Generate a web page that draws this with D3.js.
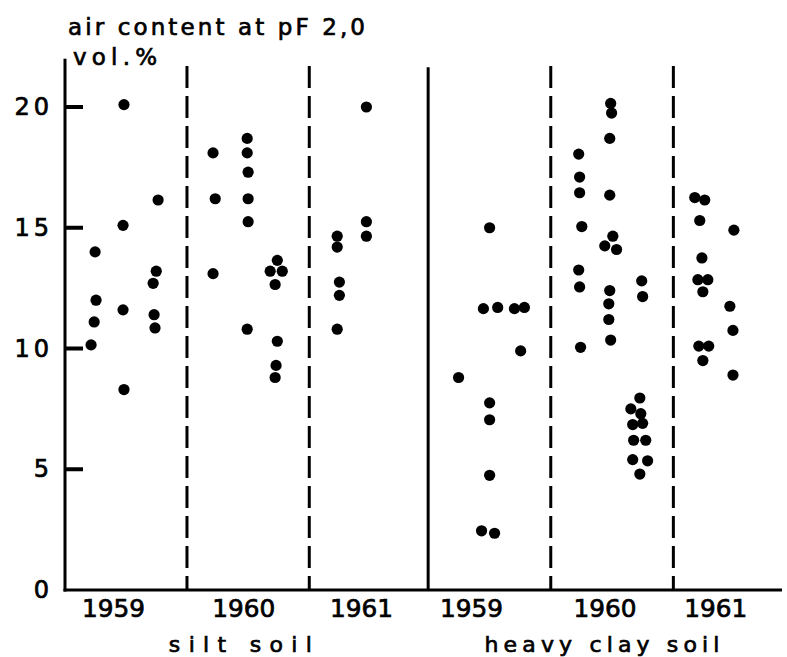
<!DOCTYPE html>
<html>
<head>
<meta charset="utf-8">
<script src="https://cdn.jsdelivr.net/npm/d3@7"></script>
<style>
  html, body { margin: 0; padding: 0; background: #fff; }
  svg { display: block; }
  text { font-family: "DejaVu Sans", "Liberation Sans", sans-serif; fill: #000; stroke: #000; stroke-width: 0.7px; }
</style>
</head>
<body>
<svg id="chart" width="787" height="657"></svg>
<script>
// ---- data: [column position, air content vol.%] ----
const siltSoil1959 = [[1.9,20.1],[3.0,16.15],[1.87,15.1],[0.97,14.0],[2.94,13.2],[2.84,12.7],[1.0,12.0],[1.87,11.6],[0.94,11.1],[2.87,11.4],[2.9,10.85],[0.84,10.15],[1.9,8.3]];
const siltSoil1960 = [[4.77,18.1],[5.87,18.7],[5.87,18.1],[5.9,17.3],[4.84,16.2],[5.9,16.2],[5.9,15.25],[4.77,13.1],[6.84,13.65],[6.61,13.2],[7.0,13.2],[6.77,12.65],[5.87,10.8],[6.84,10.3],[6.8,9.3],[6.77,8.8]];
const siltSoil1961 = [[9.71,20.0],[9.71,15.25],[9.71,14.65],[8.77,14.65],[8.77,14.2],[8.84,12.75],[8.84,12.2],[8.77,10.8]];
const claySoil1959 = [[12.68,8.8],[13.68,15.0],[13.48,11.65],[13.94,11.7],[14.48,11.65],[14.8,11.7],[14.68,9.9],[13.68,7.75],[13.68,7.05],[13.68,4.75],[13.42,2.45],[13.84,2.35]];
const claySoil1960 = [[16.55,18.05],[16.58,17.1],[16.58,16.45],[16.65,15.05],[16.55,13.25],[16.58,12.55],[16.61,10.05],
  [17.58,20.15],[17.61,19.75],[17.55,18.7],[17.55,16.35],[17.65,14.65],[17.39,14.25],[17.77,14.1],[17.55,12.4],[17.52,11.85],[17.52,11.2],[17.58,10.35],
  [18.58,12.8],[18.61,12.15],[18.52,7.95],[18.23,7.5],[18.55,7.3],[18.29,6.85],[18.61,6.9],[18.32,6.2],[18.71,6.2],[18.29,5.4],[18.77,5.35],[18.52,4.8]];
const claySoil1961 = [[20.29,16.25],[20.61,16.15],[20.45,15.3],[20.52,13.75],[20.39,12.85],[20.71,12.85],[20.55,12.35],[20.42,10.1],[20.74,10.1],[20.55,9.5],
  [21.55,14.9],[21.42,11.75],[21.52,10.75],[21.52,8.9]];

const yearLabels = ["1959","1960","1961","1959","1960","1961"];
const yearCenters = [1.56, 5.76, 9.55, 13.1, 17.4, 20.97];
const dashedDividers = [3.93, 7.87, 15.65, 19.6];
const soilDivider = 11.7;
const soilLabels = ["silt  soil", "heavy clay soil"];
const soilCenters = [5.65, 17.3];
const yTicks = [0, 5, 10, 15, 20];
const titleLines = ["air content at pF 2,0", "vol.%"];

// ---- scales ----
const svg = d3.select("#chart");
const x = d3.scaleLinear().domain([0, 23.1]).range([65, 782]);
const y = d3.scaleLinear().domain([0, 20]).range([590, 107]);
const yTop = 22.0;

// dashed year dividers
svg.selectAll("line.div").data(dashedDividers).join("line")
  .attr("class", "div")
  .attr("x1", d => x(d)).attr("x2", d => x(d))
  .attr("y1", y(21.7)).attr("y2", y(0))
  .attr("stroke", "#000").attr("stroke-width", 3)
  .attr("stroke-dasharray", "22,8");

// solid soil divider
svg.append("line")
  .attr("x1", x(soilDivider)).attr("x2", x(soilDivider))
  .attr("y1", y(21.65)).attr("y2", y(0))
  .attr("stroke", "#000").attr("stroke-width", 3);

// y axis labels via d3 axis
const yAxis = d3.axisLeft(y).tickValues(yTicks).tickSize(0).tickPadding(12).tickFormat(d3.format("d"));
const gy = svg.append("g").attr("transform", `translate(${x(0)},0)`).call(yAxis);
gy.select(".domain").remove();
gy.selectAll(".tick line").remove();
gy.selectAll(".tick text").attr("font-size", 24).attr("letter-spacing", 4)
  .style("font-family", "'DejaVu Sans', sans-serif").attr("fill", "#000");

// axis lines
svg.append("rect").attr("x", x(0) - 1.5).attr("width", 3)
  .attr("y", y(yTop)).attr("height", y(0) - y(yTop) + 1.5).attr("fill", "#000");
svg.append("rect").attr("x", x(0) - 1.5).attr("width", x(23.1) - x(0) + 1.5)
  .attr("y", y(0) - 1.5).attr("height", 3).attr("fill", "#000");

// inward tick marks (drawn last on top)
svg.append("g").attr("class", "yticks").selectAll("rect").data(yTicks.filter(d => d > 0)).join("rect")
  .attr("x", x(0)).attr("width", 18)
  .attr("y", d => y(d) - 2).attr("height", 4)
  .attr("fill", "#000");

// points
const allSeries = [siltSoil1959, siltSoil1960, siltSoil1961, claySoil1959, claySoil1960, claySoil1961];
svg.append("g").selectAll("g").data(allSeries).join("g")
  .selectAll("circle").data(d => d).join("circle")
  .attr("cx", d => x(d[0])).attr("cy", d => y(d[1])).attr("r", 5.6).attr("fill", "#000");

// year labels
svg.selectAll("text.year").data(yearLabels).join("text")
  .attr("class", "year")
  .attr("x", (d, i) => x(yearCenters[i])).attr("y", 617)
  .attr("text-anchor", "middle").attr("font-size", 24)
  .attr("textLength", 63).attr("lengthAdjust", "spacingAndGlyphs")
  .text(d => d);

// soil labels
svg.selectAll("text.soil").data(soilLabels).join("text")
  .attr("class", "soil")
  .attr("x", (d, i) => x(soilCenters[i])).attr("y", 652)
  .attr("text-anchor", "middle").attr("font-size", 22)
  .attr("textLength", (d, i) => i === 0 ? 143 : 235).attr("lengthAdjust", "spacing")
  .text(d => d);

// title
svg.append("text").attr("x", 68).attr("y", 35).attr("font-size", 23)
  .attr("textLength", 297).attr("lengthAdjust", "spacing").text(titleLines[0]);
svg.append("text").attr("x", 73).attr("y", 65).attr("font-size", 23)
  .attr("textLength", 84).attr("lengthAdjust", "spacing").text(titleLines[1]);
</script>
</body>
</html>
